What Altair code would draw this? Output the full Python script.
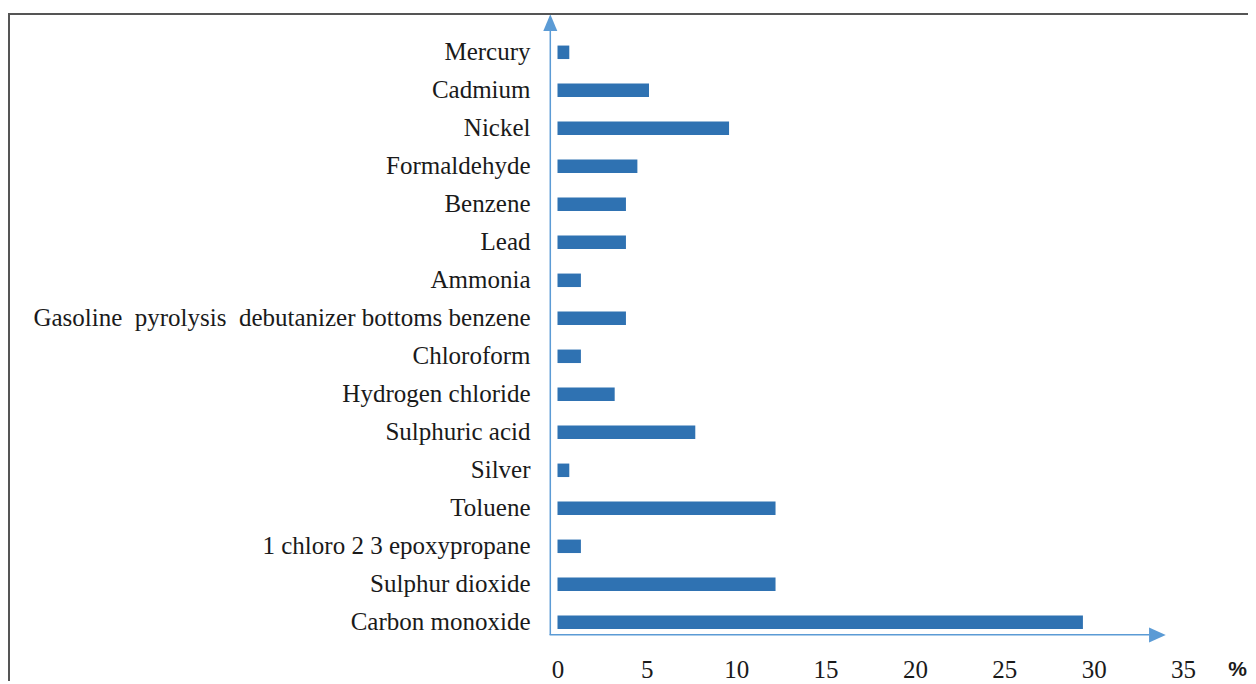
import altair as alt
import pandas as pd

categories = [
    "Mercury", "Cadmium", "Nickel", "Formaldehyde", "Benzene", "Lead", "Ammonia",
    "Gasoline\u00a0 pyrolysis\u00a0 debutanizer bottoms benzene",
    "Chloroform", "Hydrogen chloride", "Sulphuric acid", "Silver", "Toluene",
    "1 chloro 2 3 epoxypropane", "Sulphur dioxide", "Carbon monoxide",
]
values = [0.66, 5.12, 9.6, 4.47, 3.83, 3.83, 1.31, 3.83, 1.31, 3.2, 7.71, 0.66,
          12.2, 1.31, 12.2, 29.4]
x_ticks = [0, 5, 10, 15, 20, 25, 30, 35]

df = pd.DataFrame({"substance": categories, "pct": values})

BAR = "#2F72B2"
AXIS = "#5B9BD5"
SERIF = "Liberation Serif"
one = alt.Data(values=[{"k": 1}])

bars = alt.Chart(df).mark_bar(color=BAR).encode(
    x=alt.X("pct:Q", scale=alt.Scale(domain=[0, 35], nice=False, zero=True),
            axis=alt.Axis(values=x_ticks, title=None, domain=False, ticks=False,
                          tickSize=0, grid=False, labelFont=SERIF, labelFontSize=25,
                          labelColor="#1a1a1a", labelPadding=35.7,
                          labelBaseline="alphabetic", labelFlush=False)),
    y=alt.Y("substance:N", sort=categories,
            scale=alt.Scale(paddingInner=0.645, paddingOuter=0.3225),
            axis=alt.Axis(title=None, domain=False, ticks=False, tickSize=0,
                          grid=False, labelFont=SERIF, labelFontSize=25,
                          labelColor="#1a1a1a", labelPadding=27.5, labelLimit=700)),
)

y_line = alt.Chart(one).mark_rule(color=AXIS, strokeWidth=1.5).encode(
    x=alt.value(-7.2), y=alt.value(-2.5), y2=alt.value(601.6))
x_line = alt.Chart(one).mark_rule(color=AXIS, strokeWidth=1.5).encode(
    x=alt.value(-7.9), x2=alt.value(592), y=alt.value(601.4))
y_arrow = alt.Chart(one).mark_point(
    shape="M0,-1L0.84,1L-0.84,1Z", filled=True, color=AXIS, opacity=1, size=279
).encode(x=alt.value(-7.2), y=alt.value(-10.7))
x_arrow = alt.Chart(one).mark_point(
    shape="M1,0L-1,0.9L-1,-0.9Z", filled=True, color=AXIS, opacity=1, size=279
).encode(x=alt.value(599.9), y=alt.value(601.6))

pct = alt.Chart(one).mark_text(
    text="%", font="Liberation Sans", fontWeight="bold", fontSize=21,
    color="#1a1a1a", baseline="alphabetic", align="center"
).encode(x=alt.value(680), y=alt.value(642.5))

frame_top = alt.Chart(one).mark_rule(color="#555555", strokeWidth=2).encode(
    x=alt.value(-549.5), x2=alt.value(700), y=alt.value(-19.3))
frame_left = alt.Chart(one).mark_rule(color="#555555", strokeWidth=2).encode(
    x=alt.value(-548.5), y=alt.value(-20.3), y2=alt.value(700))

chart = alt.layer(
    bars, y_line, x_line, y_arrow, x_arrow, pct, frame_top, frame_left
).properties(
    width=625.5, height=608,
    padding={"left": 549.5, "top": 25.3, "right": 65, "bottom": 39.7},
    autosize="none",
    background="white",
).configure_view(strokeWidth=0, stroke="transparent")

chart.save("out.html", embed_options={"renderer": "svg", "actions": False})
